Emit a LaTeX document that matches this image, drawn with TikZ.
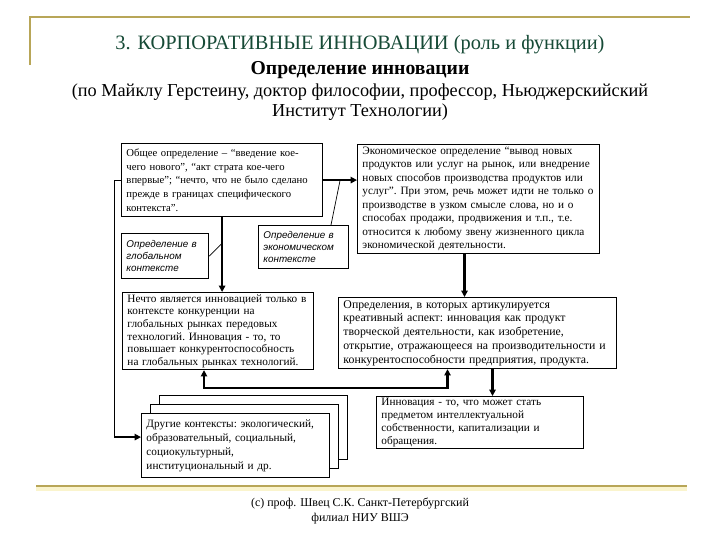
\documentclass[tikz,border=0pt]{standalone}
\usepackage{fontspec}
\setmainfont{Liberation Serif}
\setsansfont{Liberation Sans}
\usetikzlibrary{arrows.meta,calc,positioning}
\definecolor{slideGold}{RGB}{184,166,88}
\definecolor{slideGlow}{RGB}{250,244,205}
\definecolor{titleGreen}{RGB}{22,74,54}
\tikzset{
  defbox/.style={draw, line width=0.8pt, fill=white, anchor=north west, align=left, inner xsep=3.5pt, inner ysep=1pt,
    execute at begin node=\frenchspacing, font=\fontsize{8}{9.6}\selectfont},
  ctxbox/.style={defbox, font=\sffamily\itshape\fontsize{7}{8.6}\selectfont},
  flow/.style={line width=1.5pt, -{Triangle[length=4.5pt,width=4.5pt]}},
  bothflow/.style={line width=1.5pt, {Triangle[length=4.5pt,width=4.5pt]}-{Triangle[length=4.5pt,width=4.5pt]}},
  callout/.style={line width=0.5pt},
}

\begin{document}
\begin{tikzpicture}[x=0.025cm, y=-0.025cm]
    \useasboundingbox (0,0) rectangle (720,540);
    \draw[slideGold, line width=2pt] (30,65) -- (30,17) -- (690,17);
    \draw[slideGlow, line width=3pt] (36,489) -- (687,489);
    \draw[slideGold, line width=2pt] (36,486) -- (687,486);

    \node[titleGreen, font=\fontsize{14.5}{16}\selectfont] (title) at (360,45) {3. КОРПОРАТИВНЫЕ ИННОВАЦИИ (роль и функции)};
    \node[font=\bfseries\fontsize{14}{16}\selectfont] (heading) at (360,70) {Определение инновации};
    \node[align=center, font=\fontsize{13}{14.2}\selectfont] (source) at (360,102) {%
    (по Майклу Герстеину, доктор философии, профессор, Ньюджерскийский\\
    Институт Технологии)};

    \node[defbox, text width=4.78cm, minimum height=1.825cm, font=\fontsize{7.6}{9.8}\selectfont] (general) at (121,143) {%
    Общее определение – “введение кое-\\
    чего нового”, “акт страта кое-чего\\
    впервые”; “нечто, что не было сделано\\
    прежде в границах специфического\\
    контекста”.};
    \node[ctxbox, text width=1.93cm, minimum height=1.125cm] (globalCtx) at (121,233) {%
    Определение в\\глобальном\\контексте};
    \node[ctxbox, text width=2cm, minimum height=1.075cm] (econCtx) at (258,225) {%
    Определение в\\экономическом\\контексте};
    \node[defbox, text width=5.8cm, minimum height=2.725cm, font=\fontsize{8}{9.6}\selectfont] (economic) at (357,144) {%
    Экономическое определение “вывод новых\\
    продуктов или услуг на рынок, или внедрение\\
    новых способов производства продуктов или\\
    услуг”. При этом, речь может идти не только о\\
    производстве в узком смысле слова, но и о\\
    способах продажи, продвижения и т.п., т.е.\\
    относится к любому звену жизненного цикла\\
    экономической деятельности.};
    \node[defbox, text width=4.525cm, minimum height=1.925cm, font=\fontsize{8}{9}\selectfont] (globalMkt) at (122,292) {%
    Нечто является инновацией только в\\
    контексте конкуренции на\\
    глобальных рынках передовых\\
    технологий. Инновация - то, то\\
    повышает конкурентоспособность\\
    на глобальных рынках технологий.};
    \node[defbox, text width=6.7cm, minimum height=1.775cm, font=\fontsize{8.4}{9.8}\selectfont] (creative) at (338,297) {%
    Определения, в которых артикулируется\\
    креативный аспект: инновация как продукт\\
    творческой деятельности, как изобретение,\\
    открытие, отражающееся на производительности и\\
    конкурентоспособности предприятия, продукта.};
    \node[defbox, text width=4.45cm, minimum height=1.6cm] (otherBack) at (159,395) {};
    \node[defbox, text width=4.45cm, minimum height=1.6cm] (otherMid) at (150,404) {};
    \node[defbox, text width=4.45cm, minimum height=1.6cm, font=\fontsize{8}{10}\selectfont] (other) at (141,413) {%
    Другие контексты: экологический,\\
    образовательный, социальный,\\
    социокультурный,\\
    институциональный и др.};
    \node[defbox, text width=4.925cm, minimum height=1.3cm, font=\fontsize{8}{9.2}\selectfont] (property) at (376,396) {%
    Инновация - то, что может стать\\
    предметом интеллектуальной\\
    собственности, капитализации и\\
    обращения.};

    \node[align=center, font=\fontsize{8.5}{11}\selectfont] (footer) at (360,511) {%
    (c) проф. Швец С.К. Санкт-Петербургский\\филиал НИУ ВШЭ};

    \draw[flow] (general.south) -- (general.south |- globalMkt.north);
    \draw[flow] (general.east) -- (general.east -| economic.west);
    \coordinate (globTap) at ($(general.south)+(0,26)$);
    \draw[callout] (globalCtx.east) -- (globTap);
    \coordinate (econTap) at ($(general.east)!0.5!(general.east -| economic.west)$);
    \draw[callout] ($(econCtx.north east)+(-18,0)$) -- (econTap);
    \coordinate (loopCorner) at ($(general.west)+(-7,257)$);
    \draw[callout] (general.west) -| (loopCorner);
    \draw[flow] (loopCorner) -- (loopCorner -| other.west);
    \coordinate (econOut) at ($(economic.south)+(-14,0)$);
    \draw[flow] (econOut) -- (econOut |- creative.north);
    \coordinate (creatOut) at ($(creative.south)+(15,0)$);
    \draw[flow] (creatOut) -- (creatOut |- property.north);
    \coordinate (mktIn) at ($(globalMkt.south)+(-14,0)$);
    \coordinate (creatIn) at ($(creative.south)+(-30,0)$);
    \draw[bothflow] (mktIn) -- ++(0,18) -| (creatIn);
\end{tikzpicture}
\end{document}
